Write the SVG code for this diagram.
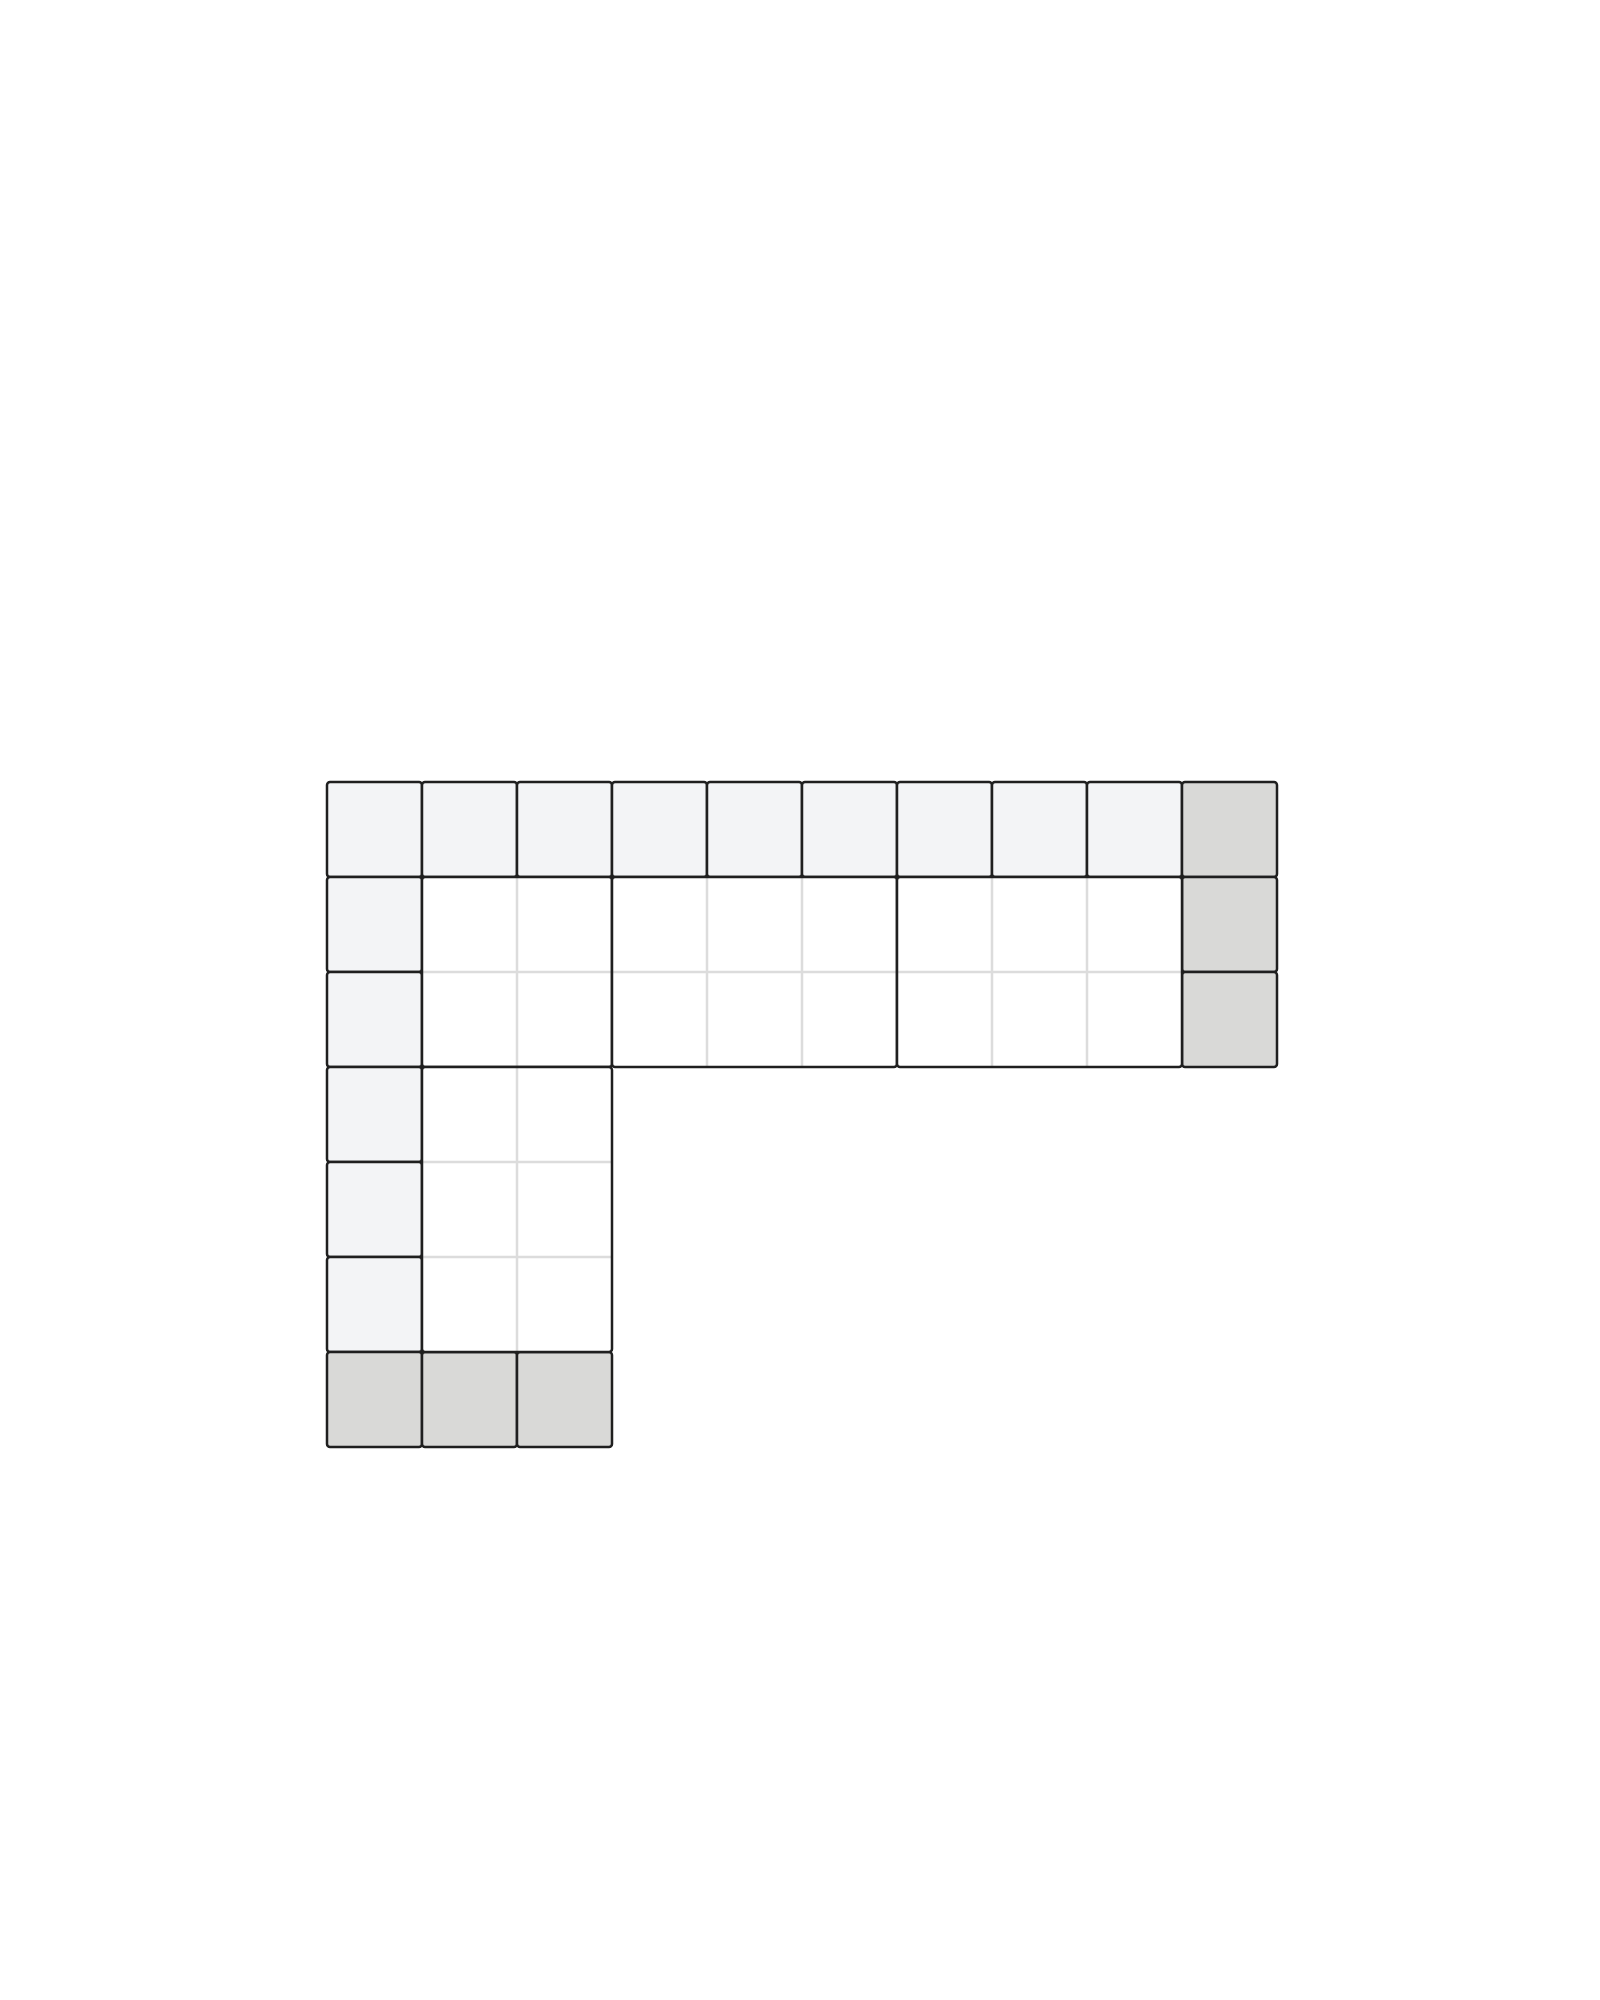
<svg xmlns="http://www.w3.org/2000/svg" width="1600" height="2000" viewBox="0 0 1600 2000">
<style>
.c{stroke:#1f1f1f;stroke-width:2.5;rx:3;ry:3}
.l{fill:#f3f4f6}
.g{fill:#d9d9d7}
.blk{fill:#fff;stroke:none}
.in{stroke:#dcdcdc;stroke-width:2.5;fill:none}
.out{fill:none;stroke:#1f1f1f;stroke-width:2.5}
</style>
<rect width="1600" height="2000" fill="#fff"/>
<g id="top-row">
<rect class="c l" x="327" y="782" width="95" height="95"/>
<rect class="c l" x="422" y="782" width="95" height="95"/>
<rect class="c l" x="517" y="782" width="95" height="95"/>
<rect class="c l" x="612" y="782" width="95" height="95"/>
<rect class="c l" x="707" y="782" width="95" height="95"/>
<rect class="c l" x="802" y="782" width="95" height="95"/>
<rect class="c l" x="897" y="782" width="95" height="95"/>
<rect class="c l" x="992" y="782" width="95" height="95"/>
<rect class="c l" x="1087" y="782" width="95" height="95"/>
<rect class="c g" x="1182" y="782" width="95" height="95"/>
</g>
<g id="right-col">
<rect class="c g" x="1182" y="877" width="95" height="95"/>
<rect class="c g" x="1182" y="972" width="95" height="95"/>
</g>
<g id="left-col">
<rect class="c l" x="327" y="877" width="95" height="95"/>
<rect class="c l" x="327" y="972" width="95" height="95"/>
<rect class="c l" x="327" y="1067" width="95" height="95"/>
<rect class="c l" x="327" y="1162" width="95" height="95"/>
<rect class="c l" x="327" y="1257" width="95" height="95"/>
</g>
<g id="bottom-row">
<rect class="c g" x="327" y="1352" width="95" height="95"/>
<rect class="c g" x="422" y="1352" width="95" height="95"/>
<rect class="c g" x="517" y="1352" width="95" height="95"/>
</g>
<g id="block-a">
<rect class="blk" x="422" y="877" width="190" height="190" rx="3"/>
<path class="in" d="M517 878V1066M423 972H611"/>
<rect class="out" x="422" y="877" width="190" height="190" rx="3"/>
</g>
<g id="block-b">
<rect class="blk" x="612" y="877" width="285" height="190" rx="3"/>
<path class="in" d="M707 878V1066M802 878V1066M613 972H896"/>
<rect class="out" x="612" y="877" width="285" height="190" rx="3"/>
</g>
<g id="block-c">
<rect class="blk" x="897" y="877" width="285" height="190" rx="3"/>
<path class="in" d="M992 878V1066M1087 878V1066M898 972H1181"/>
<rect class="out" x="897" y="877" width="285" height="190" rx="3"/>
</g>
<g id="block-d">
<rect class="blk" x="422" y="1067" width="190" height="285" rx="3"/>
<path class="in" d="M517 1068V1351M423 1162H611M423 1257H611"/>
<rect class="out" x="422" y="1067" width="190" height="285" rx="3"/>
</g>
<g id="connectors"/>
</svg>
